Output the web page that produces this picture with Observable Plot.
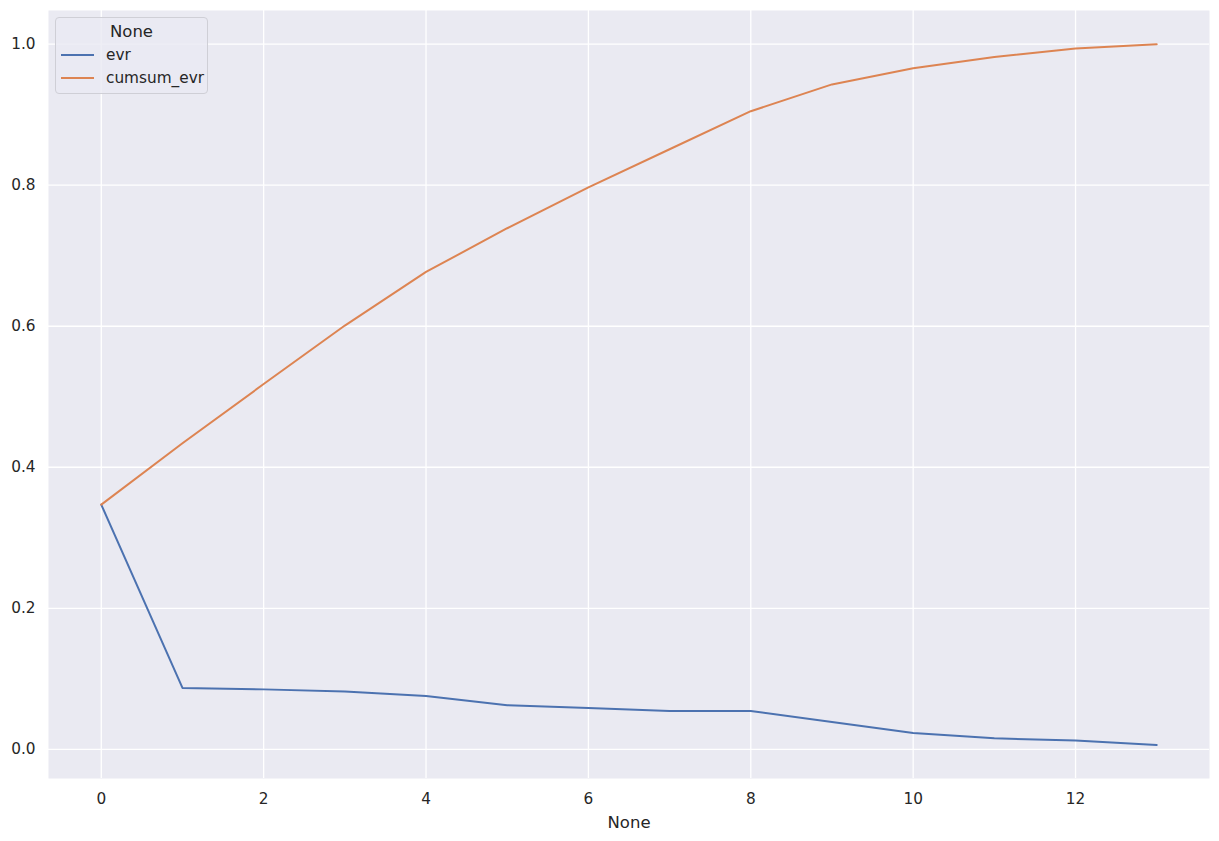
<!DOCTYPE html>
<html>
<head>
<meta charset="utf-8">
<script src="https://cdn.jsdelivr.net/npm/d3@7"></script>
<script src="https://cdn.jsdelivr.net/npm/@observablehq/plot@0.6"></script>
<style>
  body { margin: 0; background: #fff; font-family: "DejaVu Sans", sans-serif; }
  #wrap { position: relative; width: 1219px; height: 841px; }
  #legend {
    position: absolute; left: 55px; top: 17px; width: 151px; height: 75px;
    border: 1px solid #cfcfd6; border-radius: 4px; background: rgba(234,234,242,0.8);
    color: #262626; font-size: 15.3px; box-sizing: content-box;
  }
  #legend .title { position: absolute; left: 0; right: 0; top: 4px; text-align: center; font-size: 16.5px; }
  #legend .item { position: absolute; left: 5px; height: 20px; line-height: 20px; white-space: nowrap; }
  #legend .sw { display: inline-block; width: 33px; height: 2px; vertical-align: middle; margin-right: 12px; position: relative; top: -1px; }
</style>
</head>
<body>
<div id="wrap"></div>
<script>
const components = [0, 1, 2, 3, 4, 5, 6, 7, 8, 9, 10, 11, 12, 13];
const evr = [0.347, 0.087, 0.085, 0.082, 0.0757, 0.0625, 0.0587, 0.0544, 0.0542, 0.0388, 0.0232, 0.0156, 0.0124, 0.0062];
const cumsumEvr = [0.347, 0.434, 0.518, 0.601, 0.677, 0.739, 0.797, 0.851, 0.905, 0.943, 0.966, 0.982, 0.994, 1.0];
const seriesNames = ["evr", "cumsum_evr"];
const seriesColors = ["#4C72B0", "#DD8452"];
const xTicks = [0, 2, 4, 6, 8, 10, 12];
const yTicks = [0, 0.2, 0.4, 0.6, 0.8, 1.0];
const legendTitle = "None";
const xLabel = "None";

const rows = [];
components.forEach((c, i) => {
  rows.push({x: c, y: evr[i], s: seriesNames[0]});
});
components.forEach((c, i) => {
  rows.push({x: c, y: cumsumEvr[i], s: seriesNames[1]});
});

const chart = Plot.plot({
  width: 1219,
  height: 841,
  marginLeft: 48,
  marginRight: 10,
  marginTop: 10,
  marginBottom: 63,
  style: {fontFamily: "DejaVu Sans, sans-serif", color: "#262626", background: "#fff"},
  x: {domain: [-0.65, 13.65]},
  y: {domain: [-0.0414, 1.0478]},
  color: {domain: seriesNames, range: seriesColors},
  marks: [
    Plot.frame({fill: "#EAEAF2", stroke: null}),
    Plot.gridX(xTicks, {stroke: "#fff", strokeOpacity: 1, strokeWidth: 1.3}),
    Plot.gridY(yTicks, {stroke: "#fff", strokeOpacity: 1, strokeWidth: 1.3}),
    Plot.axisX(xTicks, {tickSize: 0, tickPadding: 15, fontSize: 15.3, label: null, fill: "#262626"}),
    Plot.axisY(yTicks, {tickSize: 0, tickPadding: 13, fontSize: 15.3, label: null, tickFormat: d3.format(".1f"), fill: "#262626"}),
    Plot.line(rows, {x: "x", y: "y", z: "s", stroke: "s", strokeWidth: 2}),
    Plot.text([xLabel], {frameAnchor: "bottom", dy: 49, fontSize: 16.5, fill: "#262626", text: d => d})
  ]
});

const wrap = document.getElementById("wrap");
wrap.appendChild(chart);

const legend = document.createElement("div");
legend.id = "legend";
const t = document.createElement("div");
t.className = "title";
t.textContent = legendTitle;
legend.appendChild(t);
seriesNames.forEach((name, i) => {
  const it = document.createElement("div");
  it.className = "item";
  it.style.top = (27 + i * 23.4) + "px";
  const sw = document.createElement("span");
  sw.className = "sw";
  sw.style.background = seriesColors[i];
  it.appendChild(sw);
  it.appendChild(document.createTextNode(name));
  legend.appendChild(it);
});
wrap.appendChild(legend);
</script>
</body>
</html>
